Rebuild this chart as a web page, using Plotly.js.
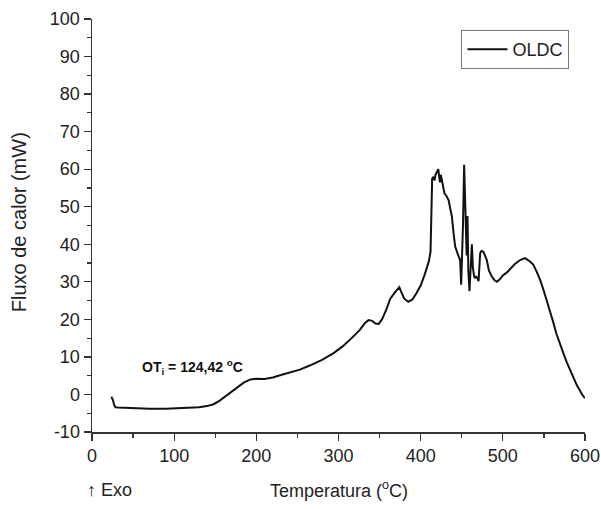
<!DOCTYPE html>
<html>
<head>
<meta charset="utf-8">
<script src="https://cdn.plot.ly/plotly-3.0.1.min.js"></script>
<style>html,body{margin:0;padding:0;background:#fff;}#chart{width:601px;height:509px;}</style>
</head>
<body>
<div id="chart"></div>
<script>
const seriesName = "OLDC";
const temperature = [23.5,24.5,25.5,27,28.5,32,50,70,90,110,130,140,148,155,165,175,185,193,200,210,220,230,240,253,265,280,294,305,315,326,332,336.5,341,345,349,353,358,363,368,372,374,376,380,385,390,395,400,405,410,412,413,413.6,414,415.5,417,418,420,421.5,422.5,423.5,424.5,426,427.5,429,431,434,436,438,440,442,445,448,449.3,450.5,451.5,452.9,454,455,456,457,458,459.4,460.5,461.5,462.3,463.5,465,466.3,467.5,469,470.5,472.4,474,476.4,478,480.5,483,486.6,490,492.7,496,500,505,510,515,521,527,532,537,541,545.4,550,554,557.5,561,565,568,571,574,578,582,586,590,594,597,600];
const heatFlow = [-0.6,-0.9,-1.5,-2.8,-3.4,-3.5,-3.7,-3.8,-3.8,-3.6,-3.4,-3.1,-2.6,-1.7,0,1.7,3.2,4.0,4.2,4.1,4.5,5.2,5.8,6.6,7.7,9.2,11,12.8,14.8,17.2,19,19.8,19.6,18.9,18.8,20,22.5,25.5,27,28,28.6,27.5,25.5,24.7,25.3,27,29,32,35.5,38,45,52,57.5,58,57,58.5,59.3,60,58,56.5,58.5,56.5,55,53.5,53,51.8,49.5,47.4,43,39.4,37.5,35.8,29.2,36,45,61.2,52,47.4,37,47.5,33,27.5,33,38,40,34,31.5,30.9,31.5,31,30.2,37.6,38.2,38,37.2,35.8,33,31.4,30.4,30,30.6,31.7,32.5,33.6,34.8,35.8,36.3,35.6,34.6,32.8,30.5,27.5,24.8,22.5,19.5,16.3,14.3,12.5,10.8,8.5,6.3,4.5,2.5,0.8,-0.2,-1.0];
const xTicks = [0,100,200,300,400,500,600];
const yTicks = [-10,0,10,20,30,40,50,60,70,80,90,100];

const font = "Liberation Sans, Arial, sans-serif";
const trace = {
  x: temperature, y: heatFlow, type: "scatter", mode: "lines", name: seriesName,
  line: {color: "#111", width: 2}
};
const axisCommon = {
  showgrid: false, zeroline: false, showline: true, linecolor: "#333", linewidth: 1.5,
  ticks: "outside", ticklen: 7, tickwidth: 1.2, tickcolor: "#333",
  tickfont: {family: font, size: 18, color: "#222"}
};
const layout = {
  width: 601, height: 509,
  margin: {l: 92, r: 16, t: 19, b: 77},
  paper_bgcolor: "#fff", plot_bgcolor: "#fff",
  showlegend: true,
  legend: {x: 0.749, y: 0.974, xanchor: "left", yanchor: "top", bordercolor: "#777", borderwidth: 1.2,
           itemwidth: 40, font: {family: font, size: 18, color: "#222"}, bgcolor: "#fff"},
  xaxis: Object.assign({}, axisCommon, {
    range: [0, 600], tickvals: xTicks, ticktext: xTicks.map(String),
    minor: {dtick: 50, ticklen: 4, tickcolor: "#333", ticks: "outside"}
  }),
  yaxis: Object.assign({}, axisCommon, {
    range: [-10, 100], tickvals: yTicks, ticktext: yTicks.map(String),
    minor: {dtick: 5, ticklen: 4, tickcolor: "#333", ticks: "outside"}
  }),
  annotations: [
    {xref: "x", yref: "y", x: 122.5, y: 7.3, showarrow: false,
     text: "<b>OT<sub>i</sub> = 124,42 <sup>o</sup>C</b>",
     font: {family: font, size: 14, color: "#111"}},
    {xref: "paper", yref: "paper", x: 0.0345, y: -0.140, xanchor: "center", yanchor: "middle", showarrow: false,
     text: "↑ Exo", font: {family: font, size: 18, color: "#222"}},
    {xref: "paper", yref: "paper", x: 0.5, y: -0.140, xanchor: "center", yanchor: "middle", showarrow: false,
     text: "Temperatura (<sup>o</sup>C)", font: {family: font, size: 18, color: "#222"}},
    {xref: "paper", yref: "paper", x: -0.148, y: 0.508, xanchor: "center", yanchor: "middle", showarrow: false,
     textangle: -90, text: "Fluxo de calor (mW)", font: {family: font, size: 20, color: "#222"}}
  ]
};
Plotly.newPlot("chart", [trace], layout, {displayModeBar: false, staticPlot: true});
</script>
</body>
</html>
